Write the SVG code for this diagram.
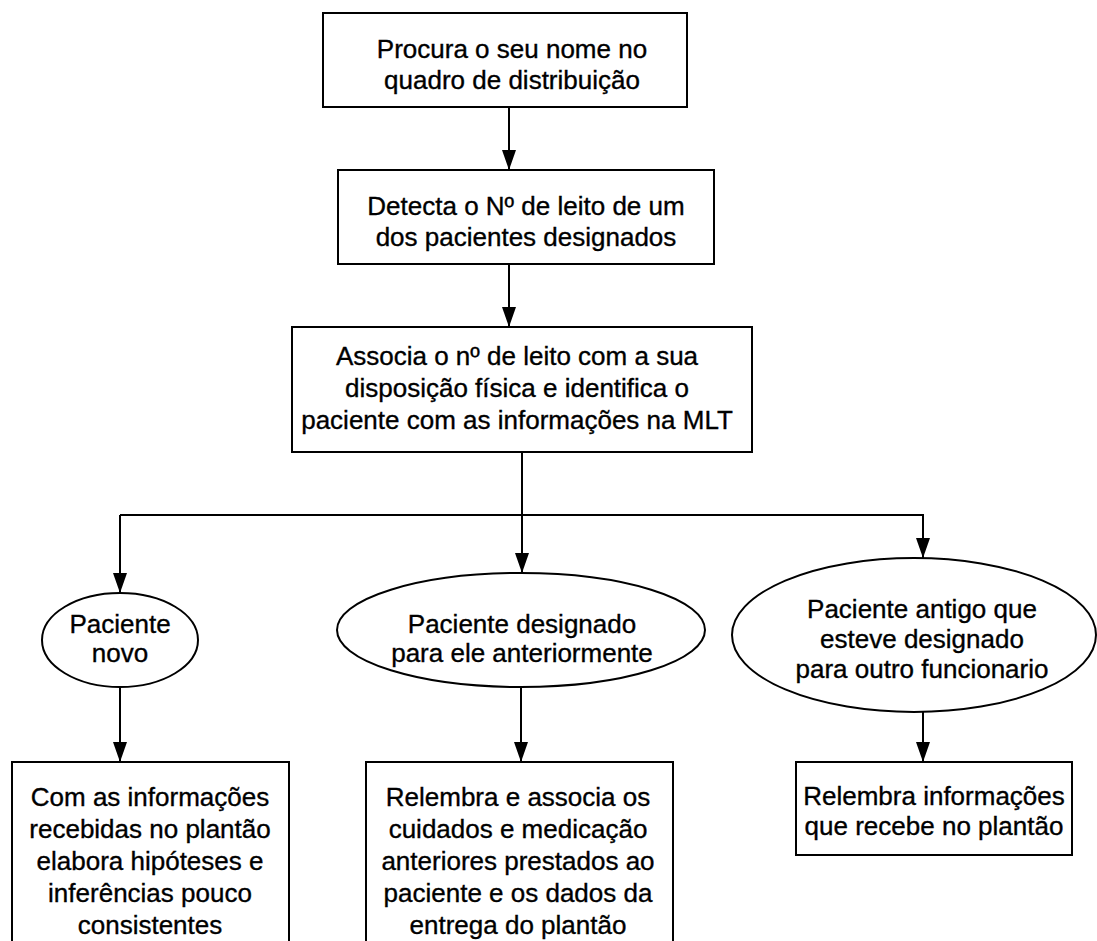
<svg xmlns="http://www.w3.org/2000/svg" width="1097" height="941" viewBox="0 0 1097 941">
  <style>
    .box { fill: #fff; stroke: #000; stroke-width: 2; }
    .conn { fill: none; stroke: #000; stroke-width: 2; }
    text { font-family: "Liberation Sans", Arial, sans-serif; font-size: 26px; fill: #000; stroke: #000; stroke-width: 0.35; text-anchor: middle; }
  </style>
  <defs>
    <marker id="arrow" markerUnits="userSpaceOnUse" markerWidth="20" markerHeight="14" viewBox="0 0 20 14" refX="20" refY="7" orient="auto">
      <path d="M0,0 L20,7 L0,14 Z" fill="#000"/>
    </marker>
  </defs>
  <rect width="1097" height="941" fill="#fff"/>

  <g id="connectors">
    <path class="conn" d="M509,107 V170" marker-end="url(#arrow)"/>
    <path class="conn" d="M509,264 V327" marker-end="url(#arrow)"/>
    <path class="conn" d="M522,452 V573" marker-end="url(#arrow)"/>
    <path class="conn" d="M120,515 H923 V558" marker-end="url(#arrow)"/>
    <path class="conn" d="M120,515 V593" marker-end="url(#arrow)"/>
    <path class="conn" d="M120,687 V762" marker-end="url(#arrow)"/>
    <path class="conn" d="M521,687 V762" marker-end="url(#arrow)"/>
    <path class="conn" d="M923,712 V762" marker-end="url(#arrow)"/>
  </g>

  <g id="node-procura">
    <rect class="box" x="323" y="13" width="364" height="94"/>
    <text x="512" y="58">Procura o seu nome no</text>
    <text x="512" y="89">quadro de distribuição</text>
  </g>

  <g id="node-detecta">
    <rect class="box" x="338" y="170" width="376" height="94"/>
    <text x="526" y="215">Detecta o Nº de leito de um</text>
    <text x="526" y="246">dos pacientes designados</text>
  </g>

  <g id="node-associa">
    <rect class="box" x="292" y="327" width="460" height="125"/>
    <text x="517" y="365">Associa o nº de leito com  a sua</text>
    <text x="517" y="397">disposição física e identifica o</text>
    <text x="517" y="429">paciente com as informações na MLT</text>
  </g>

  <g id="node-novo">
    <ellipse class="box" cx="120" cy="640" rx="78" ry="47"/>
    <text x="120" y="633">Paciente</text>
    <text x="120" y="662">novo</text>
  </g>

  <g id="node-designado">
    <ellipse class="box" cx="521" cy="630" rx="184" ry="57"/>
    <text x="522" y="633">Paciente designado</text>
    <text x="522" y="662">para ele anteriormente</text>
  </g>

  <g id="node-antigo">
    <ellipse class="box" cx="914" cy="635" rx="182" ry="77"/>
    <text x="922" y="618">Paciente antigo que</text>
    <text x="922" y="648">esteve designado</text>
    <text x="922" y="678">para outro funcionario</text>
  </g>

  <g id="node-com-informacoes">
    <rect class="box" x="12" y="762" width="277" height="190"/>
    <text x="150" y="806">Com as informações</text>
    <text x="150" y="838">recebidas no plantão</text>
    <text x="150" y="870">elabora hipóteses e</text>
    <text x="150" y="902">inferências pouco</text>
    <text x="150" y="934">consistentes</text>
  </g>

  <g id="node-relembra-associa">
    <rect class="box" x="366" y="762" width="307" height="190"/>
    <text x="518" y="806">Relembra e associa os</text>
    <text x="518" y="838">cuidados e medicação</text>
    <text x="518" y="870">anteriores prestados ao</text>
    <text x="518" y="902">paciente e os dados da</text>
    <text x="518" y="934">entrega do plantão</text>
  </g>

  <g id="node-relembra-info">
    <rect class="box" x="796" y="762" width="276" height="93"/>
    <text x="934" y="805">Relembra informações</text>
    <text x="934" y="835">que recebe no plantão</text>
  </g>
</svg>
